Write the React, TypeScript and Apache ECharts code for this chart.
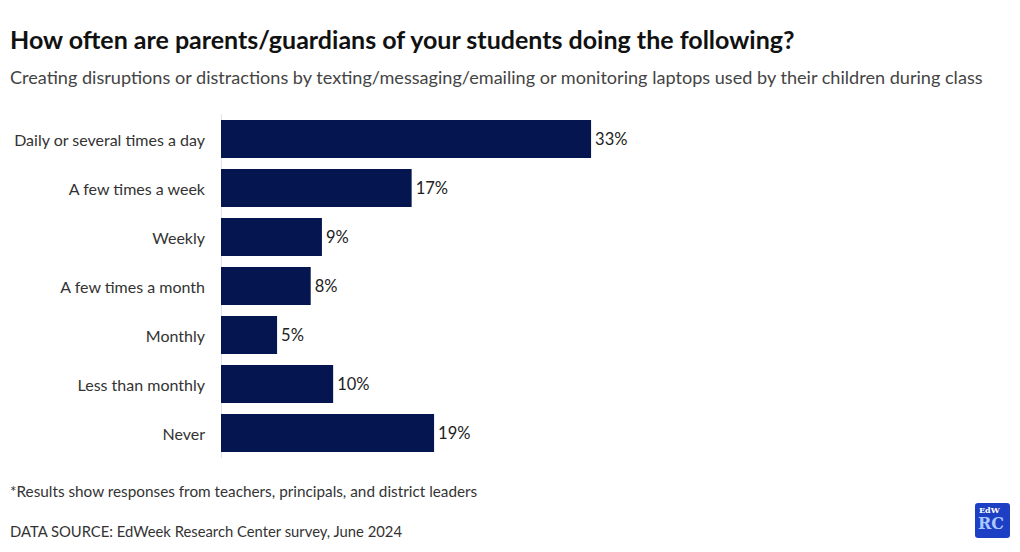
import React, { useEffect, useRef } from "react";
import * as echarts from "echarts";

const categories = [
  "Daily or several times a day",
  "A few times a week",
  "Weekly",
  "A few times a month",
  "Monthly",
  "Less than monthly",
  "Never",
];
const values = [33, 17, 9, 8, 5, 10, 19];

const titleText = "How often are parents/guardians of your students doing the following?";
const subtitleText =
  "Creating disruptions or distractions by texting/messaging/emailing or monitoring laptops used by their children during class";
const footnoteText = "*Results show responses from teachers, principals, and district leaders";
const sourceText = "DATA SOURCE: EdWeek Research Center survey, June 2024";

const FONT = "Lato, 'Noto Sans', sans-serif";

export default function App() {
  const ref = useRef<HTMLDivElement>(null);
  useEffect(() => {
    if (!ref.current) return;
    const chart = echarts.init(ref.current, null, { renderer: "svg" });
    chart.setOption({
      animation: false,
      backgroundColor: "#ffffff",
      textStyle: { fontFamily: FONT },
      grid: { left: 221, right: 14, top: 114.5, bottom: 552 - 457.5, containLabel: false },
      xAxis: {
        type: "value",
        min: 0,
        max: 70,
        show: false,
      },
      yAxis: {
        type: "category",
        data: categories,
        inverse: true,
        axisLine: { show: true, lineStyle: { color: "#dde3ee", width: 1 } },
        axisTick: { show: false },
        axisLabel: { color: "#333333", fontSize: 16, fontFamily: FONT, margin: 16 },
      },
      series: [
        {
          type: "bar",
          data: values,
          barCategoryGap: "22%",
          itemStyle: { color: "#041550" },
          label: {
            show: true,
            position: "right",
            distance: 4,
            formatter: "{c}%",
            color: "#222222",
            fontSize: 16.5,
            fontFamily: FONT,
          },
        },
      ],
      graphic: [
        {
          type: "text",
          left: 10,
          top: 26,
          style: { text: titleText, font: `bold 25px ${FONT}`, fill: "#111111" },
        },
        {
          type: "text",
          left: 10,
          top: 68,
          style: { text: subtitleText, font: `18.1px ${FONT}`, fill: "#444444" },
        },
        {
          type: "text",
          left: 10,
          top: 483,
          style: { text: footnoteText, font: `15.3px ${FONT}`, fill: "#333333" },
        },
        {
          type: "text",
          left: 10,
          top: 523,
          style: { text: sourceText, font: `14.8px ${FONT}`, fill: "#333333" },
        },
        {
          type: "rect",
          left: 975,
          top: 503,
          shape: { width: 35, height: 35, r: 3 },
          style: { fill: "#1d3fc4" },
        },
        {
          type: "text",
          left: 979,
          top: 506,
          style: { text: "EdW", font: `bold 8px 'DejaVu Serif', serif`, fill: "#ffffff" },
        },
        {
          type: "text",
          left: 978,
          top: 515,
          style: { text: "RC", font: `bold 16px 'DejaVu Serif', serif`, fill: "#a9c8ff" },
        },
      ],
    });
    return () => chart.dispose();
  }, []);
  return <div ref={ref} style={{ width: 1020, height: 552, position: "absolute", left: 0, top: 0 }} />;
}
